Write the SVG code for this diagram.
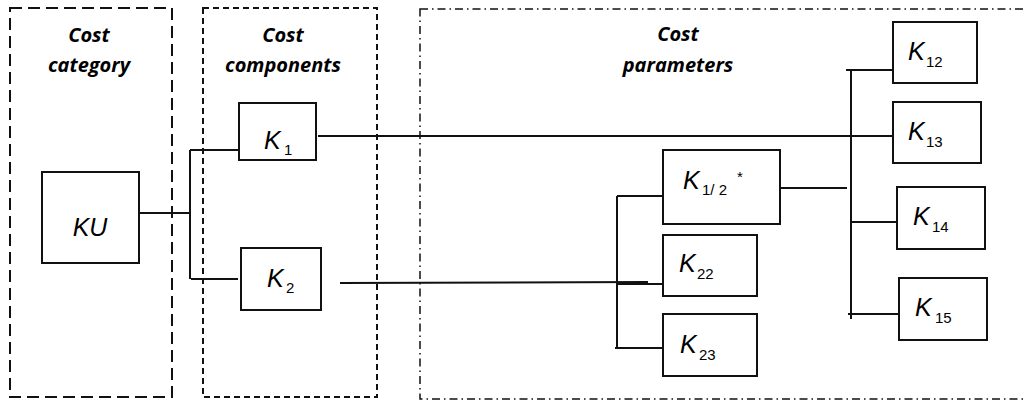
<svg xmlns="http://www.w3.org/2000/svg" width="1025" height="402" viewBox="0 0 1025 402">
  <style>
    .frame { fill: none; stroke: #111; }
    .cat { stroke-width: 2; stroke-dasharray: 12 6; }
    .comp { stroke-width: 2; stroke-dasharray: 6 4; }
    .param { stroke-width: 1.5; stroke-dasharray: 8 4 1.5 4; }
    .head { font-family: "Open Sans", "Liberation Sans", sans-serif; font-weight: bold; font-style: italic; font-size: 20px; fill: #000; text-anchor: middle; }
    .box { fill: #fff; stroke: #111; stroke-width: 2; }
    .k { font-family: "Liberation Sans", Arial, sans-serif; font-style: italic; font-size: 25px; fill: #000; }
    .sub { font-family: "Liberation Sans", Arial, sans-serif; font-size: 15px; fill: #000; }
    .wire { fill: none; stroke: #111; stroke-width: 2; }
  </style>

  <!-- grouping frames -->
  <g id="frames">
    <rect class="frame cat" x="10" y="8" width="162" height="389"/>
    <rect class="frame comp" x="203" y="8" width="174" height="389"/>
    <rect class="frame param" x="420" y="9" width="620" height="390"/>
    <text class="head" x="89" y="42">Cost</text>
    <text class="head" x="89" y="72">category</text>
    <text class="head" x="283" y="42">Cost</text>
    <text class="head" x="283" y="72">components</text>
    <text class="head" x="678" y="41">Cost</text>
    <text class="head" x="678" y="72">parameters</text>
  </g>

  <!-- connectors -->
  <g id="connectors" class="wire">
    <path d="M137 213 H190"/>
    <path d="M190 150 V279"/>
    <path d="M190 150 H239"/>
    <path d="M191 279 H238"/>
    <path d="M318 136 H893"/>
    <path d="M340 283 L648 282"/>
    <path d="M617 196 V348"/>
    <path d="M617 196 H663"/>
    <path d="M617 284 H663"/>
    <path d="M615 348 H663"/>
    <path d="M781 188 H847"/>
    <path d="M851 70 V319"/>
    <path d="M846 70 H893"/>
    <path d="M851 222 H897"/>
    <path d="M848 314 H899"/>
  </g>

  <g id="KU">
    <rect class="box" x="42" y="172" width="97" height="91"/>
    <text class="k" x="90" y="236" text-anchor="middle">KU</text>
  </g>
  <g id="K1">
    <rect class="box" x="239" y="103" width="77" height="57"/>
    <text class="k" x="264" y="149">K</text>
    <text class="sub" x="284" y="155">1</text>
  </g>
  <g id="K2">
    <rect class="box" x="241" y="248" width="80" height="62"/>
    <text class="k" x="267" y="287">K</text>
    <text class="sub" x="286" y="293">2</text>
  </g>
  <g id="K1_2">
    <rect class="box" x="663" y="150" width="117" height="74"/>
    <text class="k" x="683" y="189">K</text>
    <text class="sub" x="702" y="195">1/ 2</text>
    <text class="sub" x="737" y="182" font-size="16">*</text>
  </g>
  <g id="K22">
    <rect class="box" x="663" y="235" width="94" height="61"/>
    <text class="k" x="679" y="272">K</text>
    <text class="sub" x="697" y="279">22</text>
  </g>
  <g id="K23">
    <rect class="box" x="663" y="314" width="94" height="62"/>
    <text class="k" x="680" y="353">K</text>
    <text class="sub" x="699" y="360">23</text>
  </g>
  <g id="K12">
    <rect class="box" x="893" y="22" width="84" height="61"/>
    <text class="k" x="908" y="60">K</text>
    <text class="sub" x="926" y="67">12</text>
  </g>
  <g id="K13">
    <rect class="box" x="893" y="102" width="88" height="61"/>
    <text class="k" x="908" y="140">K</text>
    <text class="sub" x="926" y="147">13</text>
  </g>
  <g id="K14">
    <rect class="box" x="897" y="187" width="88" height="62"/>
    <text class="k" x="913" y="225">K</text>
    <text class="sub" x="932" y="232">14</text>
  </g>
  <g id="K15">
    <rect class="box" x="899" y="278" width="88" height="62"/>
    <text class="k" x="915" y="316">K</text>
    <text class="sub" x="935" y="323">15</text>
  </g>
</svg>
